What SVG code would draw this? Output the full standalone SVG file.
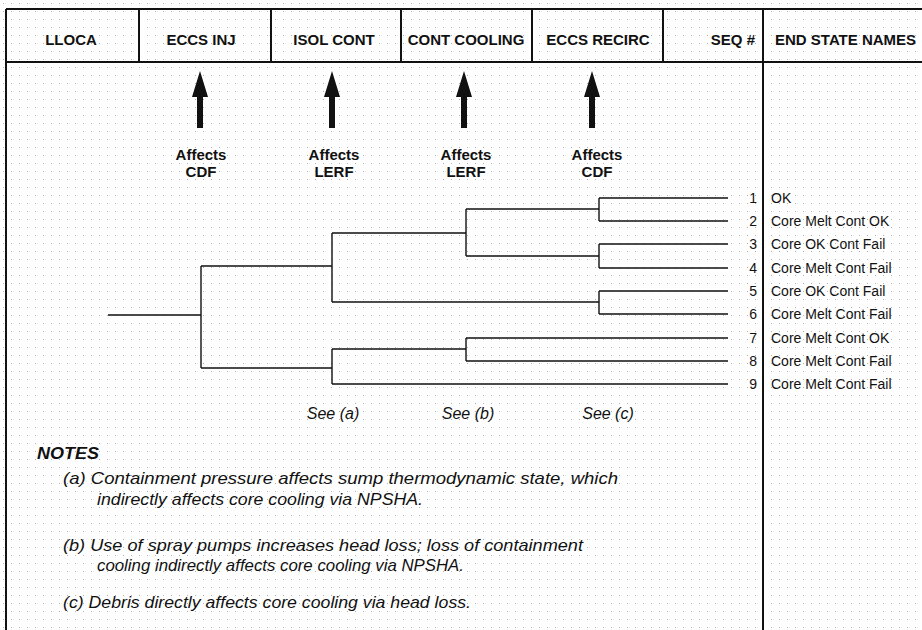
<svg xmlns="http://www.w3.org/2000/svg" width="922" height="630" viewBox="0 0 922 630">
<defs>
<pattern id="dots" x="0" y="0" width="8" height="8" patternUnits="userSpaceOnUse">
<rect x="3" y="3" width="1" height="1" fill="#b0b0b0"/>
</pattern>
<style>
.frame{stroke:#111;stroke-width:2;fill:none}
.hdr{font-family:"Liberation Sans",Arial,sans-serif;font-weight:bold;font-size:15px;fill:#111}
.aff{font-family:"Liberation Sans",Arial,sans-serif;font-weight:bold;font-size:15px;fill:#111;text-anchor:middle}
.tree{stroke:#111;stroke-width:1.4;fill:none}
.num{font-family:"Liberation Sans",Arial,sans-serif;font-size:14px;fill:#111;text-anchor:end}
.es{font-family:"Liberation Sans",Arial,sans-serif;font-size:14px;fill:#111}
.see{font-family:"Liberation Sans",Arial,sans-serif;font-style:italic;font-size:16px;fill:#111;text-anchor:middle}
.note{font-family:"Liberation Sans",Arial,sans-serif;font-style:italic;font-size:16.5px;fill:#111}
.notes-title{font-family:"Liberation Sans",Arial,sans-serif;font-style:italic;font-weight:bold;font-size:17px;fill:#111}
.arrow{fill:#111}
</style>
</defs>
<rect width="922" height="630" fill="#ffffff"/>
<rect width="922" height="630" fill="url(#dots)"/>

<g id="frame">
<path class="frame" d="M6,9 H922 M6,62 H922 M6,9 V630 M763,9 V630 M139,9 V62 M271,9 V62 M401,9 V62 M532,9 V62 M663,9 V62"/>
</g>

<g id="header">
<text class="hdr" x="71" y="45" text-anchor="middle">LLOCA</text>
<text class="hdr" x="201" y="45" text-anchor="middle">ECCS INJ</text>
<text class="hdr" x="334" y="45" text-anchor="middle">ISOL CONT</text>
<text class="hdr" x="466" y="45" text-anchor="middle">CONT COOLING</text>
<text class="hdr" x="598" y="45" text-anchor="middle">ECCS RECIRC</text>
<text class="hdr" x="755" y="45" text-anchor="end">SEQ #</text>
<text class="hdr" x="775" y="45">END STATE NAMES</text>
</g>

<g id="arrow-eccs-inj">
<polygon class="arrow" points="200,71 208,97 203,97 203,128 197,128 197,97 192,97"/>
<text class="aff" x="201" y="160">Affects</text>
<text class="aff" x="201" y="177">CDF</text>
</g>
<g id="arrow-isol-cont">
<polygon class="arrow" points="332,71 340,97 335,97 335,128 329,128 329,97 324,97"/>
<text class="aff" x="334" y="160">Affects</text>
<text class="aff" x="334" y="177">LERF</text>
</g>
<g id="arrow-cont-cooling">
<polygon class="arrow" points="464,71 472,97 467,97 467,128 461,128 461,97 456,97"/>
<text class="aff" x="466" y="160">Affects</text>
<text class="aff" x="466" y="177">LERF</text>
</g>
<g id="arrow-eccs-recirc">
<polygon class="arrow" points="592,71 600,97 595,97 595,128 589,128 589,97 584,97"/>
<text class="aff" x="597" y="160">Affects</text>
<text class="aff" x="597" y="177">CDF</text>
</g>

<g id="connectors">
<path class="tree" d="M108,315 H201 M201,266 V368 M201,266 H332 M201,368 H332"/>
<path class="tree" d="M332,233 V302 M332,233 H466 M332,302 H599"/>
<path class="tree" d="M466,209 V256 M466,209 H599 M466,256 H599"/>
<path class="tree" d="M599,198 V221 M599,198 H728 M599,221 H728"/>
<path class="tree" d="M599,244 V268 M599,244 H728 M599,268 H728"/>
<path class="tree" d="M599,291 V314 M599,291 H728 M599,314 H728"/>
<path class="tree" d="M332,349 V384 M332,349 H466 M332,384 H728"/>
<path class="tree" d="M466,338 V361 M466,338 H728 M466,361 H728"/>
</g>

<g id="seq-1"><text class="num" x="757" y="203">1</text><text class="es" x="771" y="203">OK</text></g>
<g id="seq-2"><text class="num" x="757" y="226">2</text><text class="es" x="771" y="226">Core Melt Cont OK</text></g>
<g id="seq-3"><text class="num" x="757" y="249">3</text><text class="es" x="771" y="249">Core OK Cont Fail</text></g>
<g id="seq-4"><text class="num" x="757" y="273">4</text><text class="es" x="771" y="273">Core Melt Cont Fail</text></g>
<g id="seq-5"><text class="num" x="757" y="296">5</text><text class="es" x="771" y="296">Core OK Cont Fail</text></g>
<g id="seq-6"><text class="num" x="757" y="319">6</text><text class="es" x="771" y="319">Core Melt Cont Fail</text></g>
<g id="seq-7"><text class="num" x="757" y="343">7</text><text class="es" x="771" y="343">Core Melt Cont OK</text></g>
<g id="seq-8"><text class="num" x="757" y="366">8</text><text class="es" x="771" y="366">Core Melt Cont Fail</text></g>
<g id="seq-9"><text class="num" x="757" y="389">9</text><text class="es" x="771" y="389">Core Melt Cont Fail</text></g>

<g id="see-labels">
<text class="see" x="333" y="419">See (a)</text>
<text class="see" x="468" y="419">See (b)</text>
<text class="see" x="608" y="419">See (c)</text>
</g>

<g id="notes">
<text class="notes-title" x="37" y="459" textLength="62" lengthAdjust="spacingAndGlyphs">NOTES</text>
<text class="note" x="63" y="484" textLength="555" lengthAdjust="spacingAndGlyphs">(a) Containment pressure affects sump thermodynamic state, which</text>
<text class="note" x="97" y="505" textLength="326" lengthAdjust="spacingAndGlyphs">indirectly affects core cooling via NPSHA.</text>
<text class="note" x="63" y="551" textLength="520" lengthAdjust="spacingAndGlyphs">(b) Use of spray pumps increases head loss; loss of containment</text>
<text class="note" x="97" y="571" textLength="367" lengthAdjust="spacingAndGlyphs">cooling indirectly affects core cooling via NPSHA.</text>
<text class="note" x="63" y="608" textLength="408" lengthAdjust="spacingAndGlyphs">(c) Debris directly affects core cooling via head loss.</text>
</g>
</svg>
